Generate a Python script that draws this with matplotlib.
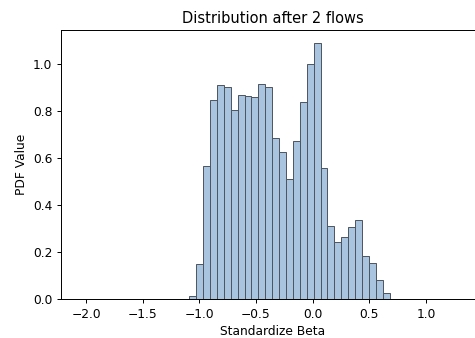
import numpy as np
import matplotlib
matplotlib.use('Agg')
import matplotlib.pyplot as plt

# histogram: 29 bins
bin_start = -1.088
bin_width = 0.0609
heights = [0.011, 0.150, 0.564, 0.847, 0.911, 0.904, 0.805, 0.868, 0.863, 0.858,
           0.916, 0.904, 0.684, 0.625, 0.510, 0.674, 0.839, 1.000, 1.091, 0.557,
           0.309, 0.242, 0.263, 0.305, 0.336, 0.184, 0.152, 0.081, 0.024]

edges = bin_start + bin_width * np.arange(len(heights) + 1)
centers = (edges[:-1] + edges[1:]) / 2

dpi = 88
fig = plt.figure(figsize=(475 / dpi, 338 / dpi), dpi=dpi)
ax = fig.add_axes([61 / 475, 39 / 338, 1.02 - 61 / 475, 269 / 338])

ax.hist(centers, bins=edges, weights=heights,
        facecolor='#a9c4df', edgecolor='#4d5660', linewidth=0.8)

ax.set_xlim(-2.2206, 1.516)
ax.set_ylim(0, 1.1447)
ax.set_xticks([-2.0, -1.5, -1.0, -0.5, 0.0, 0.5, 1.0])

ax.set_title('Distribution after 2 flows')
ax.set_xlabel('Standardize Beta')
ax.set_ylabel('PDF Value')

fig.savefig('out.png', dpi=dpi)
